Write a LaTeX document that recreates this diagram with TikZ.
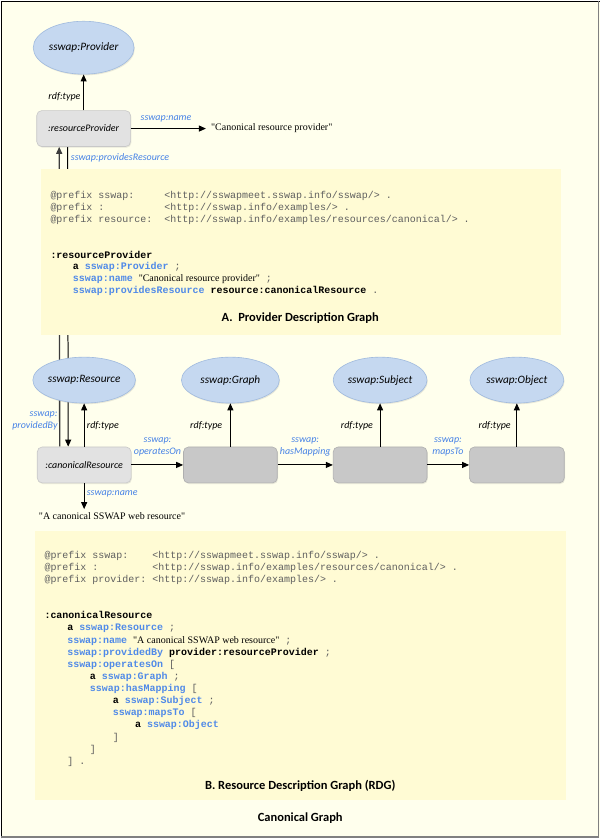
\documentclass[tikz,border=0pt]{standalone}
\usepackage{fontspec}
\setmainfont{Carlito}
\newfontfamily\codefont{Liberation Mono}
\newfontfamily\serifont{Liberation Serif}
\usetikzlibrary{shapes.geometric,arrows.meta,shadows}
\definecolor{bgc}{RGB}{255,255,237}
\definecolor{boxc}{RGB}{255,251,212}
\definecolor{ellfill}{RGB}{197,216,240}
\definecolor{elldraw}{RGB}{160,186,222}
\definecolor{instfill}{RGB}{226,226,226}
\definecolor{instdraw}{RGB}{200,200,200}
\definecolor{blankfill}{RGB}{200,200,200}
\definecolor{blankdraw}{RGB}{175,175,175}
\definecolor{lblue}{RGB}{70,130,230}
\definecolor{codeblue}{RGB}{80,138,232}
\definecolor{codegray}{RGB}{95,95,95}
\definecolor{dgray}{RGB}{60,60,60}
\newcommand\cbl[1]{\textcolor{codeblue}{\bfseries #1}}
\newcommand\cbk[1]{\textcolor{black}{\bfseries #1}}
\newcommand\cgr[1]{\textcolor{codegray}{#1}}
\newcommand\cst[1]{{\serifont\fontsize{10}{12}\selectfont #1}}
\pgfdeclarelayer{bglayer}
\pgfdeclarelayer{linelayer}
\pgfdeclarelayer{boxlayer}
\pgfsetlayers{bglayer,linelayer,boxlayer,main}
\tikzset{
  cls/.style={ellipse, fill=ellfill, draw=elldraw, line width=0.6pt, inner sep=0pt,
    font=\itshape\fontsize{11.3}{13}\selectfont,
    drop shadow={opacity=0.18, shadow xshift=0.8pt, shadow yshift=-1.2pt}},
  inst/.style={rectangle, rounded corners=5pt, fill=instfill, draw=instdraw, line width=0.6pt,
    minimum width=94pt, minimum height=36pt, inner sep=0pt,
    font=\itshape\fontsize{10}{12}\selectfont,
    drop shadow={opacity=0.18, shadow xshift=0.8pt, shadow yshift=-1.2pt}},
  blank/.style={inst, fill=blankfill, draw=blankdraw},
  arr/.style={-{Triangle[length=7pt,width=6pt]}, line width=1pt, draw=black},
  lbl/.style={font=\itshape\fontsize{10}{12}\selectfont, inner sep=0pt},
  blbl/.style={lbl, text=lblue},
  lit/.style={font=\serifont\fontsize{10}{12}\selectfont, inner sep=0pt},
  code/.style={font=\codefont\fontsize{10}{12}\selectfont, inner sep=0pt, anchor=base west},
  pfx/.style={code, text=codegray},
  ttl/.style={font=\bfseries\fontsize{12.5}{14}\selectfont, inner sep=0pt}
}
\begin{document}
\begin{tikzpicture}[x=1pt,y=-1pt]
\begin{pgfonlayer}{bglayer}
  \fill[bgc] (0,0) rectangle (600,839);
  \draw[black, line width=1.5pt] (0.75,839) -- (0.75,0.75) -- (600,0.75);
  \draw[gray, line width=1.6pt] (598.7,0) -- (598.7,838) -- (0,838);
\end{pgfonlayer}
\begin{pgfonlayer}{boxlayer}
  \fill[boxc] (40,169) rectangle (561,335);
  \fill[boxc] (34,531) rectangle (566,801);
\end{pgfonlayer}

% --- provider part
\node[cls, minimum width=101pt, minimum height=53pt] (prov) at (83,47) {sswap:Provider};
\node[inst] (rp) at (83,128) {:resourceProvider};
\node[lit, anchor=west, inner xsep=5pt] (rpn) at (205.5,128) {"Canonical resource provider"};
\draw[arr] (rp.north) -- (prov.south);
\draw[arr] (rp.east) -- (rpn.west);
\node[lbl, anchor=east] (lt1) at (80,96) {rdf:type};
\node[blbl] (ln1) at (165.5,118.3) {sswap:name};
\node[blbl, anchor=west] (lpr) at (70,157) {sswap:providesResource};

% --- resource part
\node[cls, minimum width=100pt, minimum height=46pt] (res) at (83.5,380) {sswap:Resource};
\node[cls, minimum width=98pt, minimum height=46pt] (gr) at (230,380) {sswap:Graph};
\node[cls, minimum width=94pt, minimum height=46pt] (sub) at (380,380) {sswap:Subject};
\node[cls, minimum width=94pt, minimum height=46pt] (obj) at (517,380) {sswap:Object};
\node[inst] (cr) at (83.5,465) {:canonicalResource};
\node[blank] (b1) at (230,465) {};
\node[blank] (b2) at (380,465) {};
\node[blank, minimum width=95pt] (b3) at (517,465) {};
\node[lit, anchor=west, inner ysep=3pt] (crn) at (38,516) {"A canonical SSWAP web resource"};

\begin{pgfonlayer}{linelayer}
  \draw[arr, draw=dgray, line width=1.3pt] ([xshift=-24.5pt]cr.north) -- ([xshift=-24.5pt]rp.south);
  \draw[arr] ([xshift=-16pt]rp.south) -- ([xshift=-16pt]cr.north);
\end{pgfonlayer}

\draw[arr] (cr.north) -- (res.south);
\draw[arr] (b1.north) -- (gr.south);
\draw[arr] (b2.north) -- (sub.south);
\draw[arr] (b3.north) -- (obj.south);
\draw[arr] (cr.east) -- (b1.west);
\draw[arr] (b1.east) -- (b2.west);
\draw[arr] (b2.east) -- (b3.west);
\draw[arr] (cr.south) -- (cr.south |- crn.north);

\node[blbl, align=right, anchor=east] (lpb) at (57,421) {sswap:\\providedBy};
\node[lbl, anchor=west] (lt2) at (86,426) {rdf:type};
\node[lbl, anchor=east] (lt3) at (222,426) {rdf:type};
\node[lbl, anchor=east] (lt4) at (373,426) {rdf:type};
\node[lbl, anchor=east] (lt5) at (511,426) {rdf:type};
\node[blbl, align=center] (lop) at (157,447) {sswap:\\operatesOn};
\node[blbl, align=center] (lhm) at (305,447) {sswap:\\hasMapping};
\node[blbl, align=center] (lmt) at (448,447) {sswap:\\mapsTo};
\node[blbl, anchor=west] (ln2) at (86,493.5) {sswap:name};

% --- code A
\node[pfx] (pa1) at (49.6,197.7) {@prefix sswap:};
\node[pfx] (pa1b) at (163.6,197.7) {<http://sswapmeet.sswap.info/sswap/> .};
\node[pfx] (pa2) at (49.6,209.7) {@prefix :};
\node[pfx] (pa2b) at (163.6,209.7) {<http://sswap.info/examples/> .};
\node[pfx] (pa3) at (49.6,221.7) {@prefix resource:};
\node[pfx] (pa3b) at (163.6,221.7) {<http://sswap.info/examples/resources/canonical/> .};
\node[code] (ca1) at (49.6,257.7) {\cbk{:resourceProvider}};
\node[code] (ca2) at (72,269.5) {\cbk{a} \cbl{sswap:Provider} \cgr{;}};
\node[code] (ca3) at (72,281.3) {\cbl{sswap:name} \cst{"Canonical resource provider"} \cgr{;}};
\node[code] (ca4) at (72,293.1) {\cbl{sswap:providesResource} \cbk{resource:canonicalResource} \cgr{.}};
\node[ttl] (ta) at (300,318.3) {A.\ \ Provider Description Graph};

% --- code B
\node[pfx] (pb1) at (43.6,558.7) {@prefix sswap:};
\node[pfx] (pb1b) at (151.6,558.7) {<http://sswapmeet.sswap.info/sswap/> .};
\node[pfx] (pb2) at (43.6,570.7) {@prefix :};
\node[pfx] (pb2b) at (151.6,570.7) {<http://sswap.info/examples/resources/canonical/> .};
\node[pfx] (pb3) at (43.6,582.7) {@prefix provider:};
\node[pfx] (pb3b) at (151.6,582.7) {<http://sswap.info/examples/> .};
\node[code] (cb0) at (43.6,619.2) {\cbk{:canonicalResource}};
\node[code] (cb1) at (66.4,631.3) {\cbk{a} \cbl{sswap:Resource} \cgr{;}};
\node[code] (cb2) at (66.4,643.5) {\cbl{sswap:name} \cst{"A canonical SSWAP web resource"} \cgr{;}};
\node[code] (cb3) at (66.4,655.6) {\cbl{sswap:providedBy} \cbk{provider:resourceProvider} \cgr{;}};
\node[code] (cb4) at (66.4,667.8) {\cbl{sswap:operatesOn} \cgr{[}};
\node[code] (cb5) at (89,679.9) {\cbk{a} \cbl{sswap:Graph} \cgr{;}};
\node[code] (cb6) at (89,692) {\cbl{sswap:hasMapping} \cgr{[}};
\node[code] (cb7) at (112,704.2) {\cbk{a} \cbl{sswap:Subject} \cgr{;}};
\node[code] (cb8) at (112,716.3) {\cbl{sswap:mapsTo} \cgr{[}};
\node[code] (cb9) at (134.3,728.5) {\cbk{a} \cbl{sswap:Object}};
\node[code] (cb10) at (112,740.6) {\cgr{]}};
\node[code] (cb11) at (89,752.7) {\cgr{]}};
\node[code] (cb12) at (66.4,764.9) {\cgr{] .}};
\node[ttl] (tb) at (300,786) {B. Resource Description Graph (RDG)};
\node[ttl] (tc) at (300,819.3) {Canonical Graph};
\end{tikzpicture}
\end{document}
